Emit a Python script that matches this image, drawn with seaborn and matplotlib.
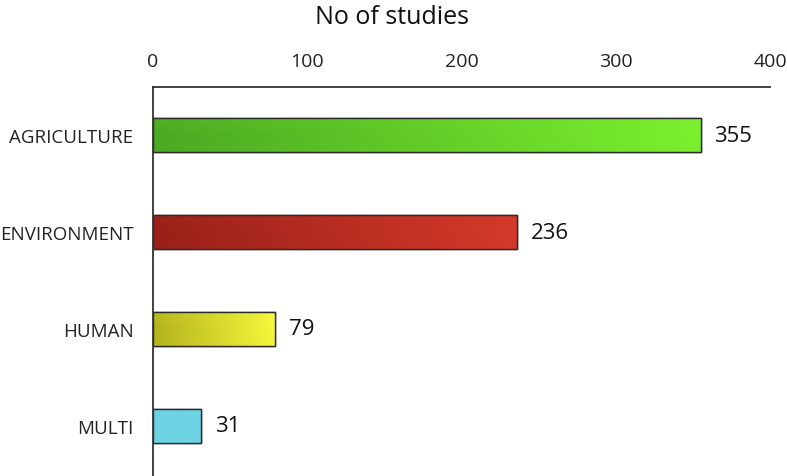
import numpy as np
import pandas as pd
import matplotlib
matplotlib.use("Agg")
import matplotlib.pyplot as plt
import seaborn as sns
from matplotlib.colors import LinearSegmentedColormap

categories = ["AGRICULTURE", "ENVIRONMENT", "HUMAN", "MULTI"]
studies = [355, 236, 79, 31]
x_ticks = [0, 100, 200, 300, 400]
dark_colors = ["#4aa622", "#961f18", "#b0b01c", "#6dd3e3"]
light_colors = ["#7cf22e", "#d63a2a", "#f8f83c", "#6dd3e3"]

sns.set_style("white")
plt.rcParams["font.family"] = ["Open Sans", "DejaVu Sans"]

df = pd.DataFrame({"category": categories, "studies": studies})

fig = plt.figure(figsize=(7.87, 4.77), dpi=100)
ax = fig.add_axes([153/787, 0.0, (770-153)/787, 1 - 88/477])

sns.barplot(data=df, y="category", x="studies", hue="category",
            palette=light_colors, width=0.35, orient="h", legend=False,
            edgecolor="#2a2a2a", linewidth=1.0, ax=ax)

# gradient fills clipped to each bar
for patch, c0, c1 in zip(ax.patches, dark_colors, light_colors):
    x0, y0 = patch.get_x(), patch.get_y()
    w, h = patch.get_width(), patch.get_height()
    cmap = LinearSegmentedColormap.from_list("g", [c0, c1])
    grad = np.linspace(0, 1, 256).reshape(1, -1)
    grad = np.vstack([grad * 0.85 + 0.12, grad, grad * 0.9 + 0.05])
    im = ax.imshow(grad, cmap=cmap, aspect="auto",
                   extent=[x0, x0 + w, y0 + h, y0], zorder=patch.get_zorder() + 0.1,
                   interpolation="bicubic", vmin=0, vmax=1)
    im.set_clip_path(patch)
    outline = plt.Rectangle((x0, y0), w, h, fill=False, edgecolor="#2a2a2a",
                            linewidth=1.0, zorder=patch.get_zorder() + 0.2)
    ax.add_patch(outline)

for i, v in enumerate(studies):
    ax.text(v + 9, i, str(v), va="center", ha="left", fontsize=16, color="#111111")

ax.set_xlim(0, 400)
ax.set_ylim(3.52, -0.5)
ax.set_xticks(x_ticks)
ax.xaxis.tick_top()
ax.tick_params(axis="x", length=0, pad=12, labelsize=14, labelcolor="#222222")
ax.tick_params(axis="y", length=0, pad=14, labelsize=13.5, labelcolor="#222222")
ax.set_xlabel("")
ax.set_ylabel("")
for s in ["right", "bottom"]:
    ax.spines[s].set_visible(False)
for s in ["top", "left"]:
    ax.spines[s].set_color("#333333")
    ax.spines[s].set_linewidth(1.3)

fig.text(392/787, 1 - 18/477, "No of studies", ha="center", va="center",
         fontsize=18, color="#111111")

fig.savefig("out.png", dpi=100)
